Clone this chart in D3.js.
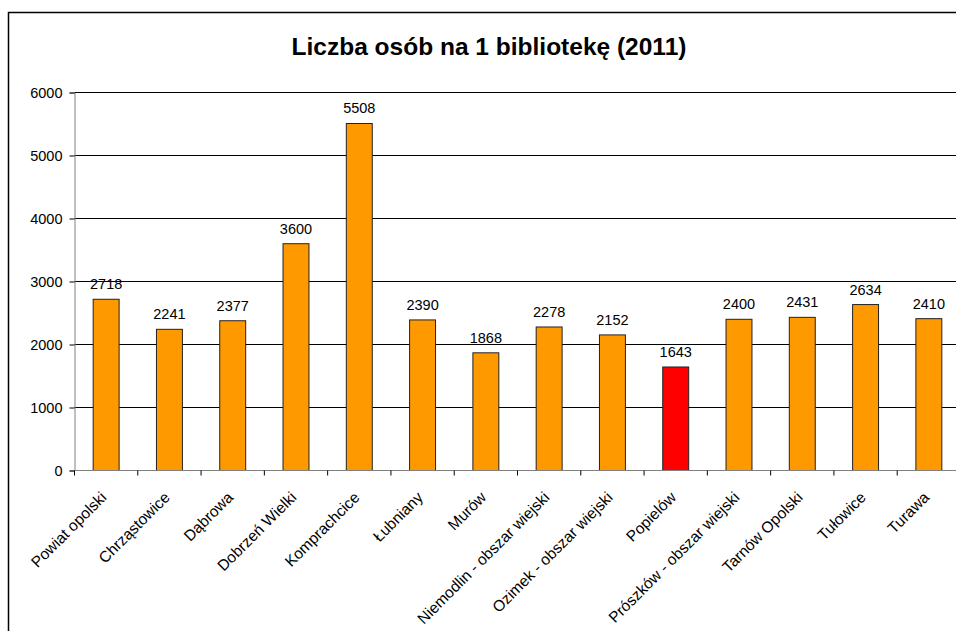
<!DOCTYPE html>
<html>
<head>
<meta charset="utf-8">
<script src="https://cdn.jsdelivr.net/npm/d3@7"></script>
<style>
  body { margin: 0; background: #fff; }
  svg { display: block; font-family: "Liberation Sans", Arial, sans-serif; }
</style>
</head>
<body>
<div id="chart"></div>
<script>
const gminy = ["Powiat opolski", "Chrząstowice", "Dąbrowa", "Dobrzeń Wielki", "Komprachcice",
  "Łubniany", "Murów", "Niemodlin - obszar wiejski", "Ozimek - obszar wiejski", "Popielów",
  "Prószków - obszar wiejski", "Tarnów Opolski", "Tułowice", "Turawa"];
const osobNaBiblioteke = [2718, 2241, 2377, 3600, 5508, 2390, 1868, 2278, 2152, 1643, 2400, 2431, 2634, 2410];
const yTicks = [0, 1000, 2000, 3000, 4000, 5000, 6000];
const wyroznione = "Popielów";

const svgWidth = 956, svgHeight = 631;
const margin = { top: 92.5, left: 74.5 };
const width = 886, height = 378;

const svg = d3.select("#chart").append("svg")
    .attr("width", svgWidth)
    .attr("height", svgHeight);

// ramka wykresu (wychodzi poza kadr z prawej i z dołu)
svg.append("rect")
    .attr("x", 8.5).attr("y", 12.5)
    .attr("width", 1000).attr("height", 700)
    .attr("fill", "none")
    .attr("stroke", "#000")
    .attr("stroke-width", 1.5);

svg.append("text")
    .attr("x", 489).attr("y", 55)
    .attr("text-anchor", "middle")
    .attr("font-size", 24.5)
    .attr("font-weight", "bold")
    .text("Liczba osób na 1 bibliotekę (2011)");

const g = svg.append("g")
    .attr("transform", "translate(" + margin.left + "," + margin.top + ")");

const x = d3.scaleBand().domain(gminy).range([0, width]).padding(0);
const y = d3.scaleLinear().domain([0, 6000]).range([height, 0]);

// linie siatki
g.selectAll(".grid")
    .data(yTicks.filter(d => d > 0))
    .enter().append("line")
    .attr("x1", 0).attr("x2", width)
    .attr("y1", d => y(d)).attr("y2", d => y(d))
    .attr("stroke", "#000")
    .attr("stroke-width", 1);

// oś Y
const yAxis = g.append("g")
    .call(d3.axisLeft(y).tickValues(yTicks).tickSize(5).tickPadding(7).tickFormat(d3.format("d")));
yAxis.select(".domain").attr("stroke", "#808080");
yAxis.selectAll(".tick line").attr("stroke", "#000");
yAxis.selectAll("text").attr("font-size", 14.5).attr("fill", "#000")
    .attr("font-family", "Liberation Sans, Arial, sans-serif");

// słupki
const barW = x.bandwidth() * 0.41;
g.selectAll(".bar")
    .data(osobNaBiblioteke)
    .enter().append("rect")
    .attr("x", (d, i) => x(gminy[i]) + (x.bandwidth() - barW) / 2)
    .attr("y", d => y(d))
    .attr("width", barW)
    .attr("height", d => height - y(d))
    .attr("fill", (d, i) => gminy[i] === wyroznione ? "#FF0000" : "#FF9900")
    .attr("stroke", "#222")
    .attr("stroke-width", 1);

// etykiety wartości
g.selectAll(".val")
    .data(osobNaBiblioteke)
    .enter().append("text")
    .attr("x", (d, i) => x(gminy[i]) + x.bandwidth() / 2)
    .attr("y", d => y(d) - 10)
    .attr("text-anchor", "middle")
    .attr("font-size", 14.5)
    .text(d => d);

// oś X
const xAxisG = g.append("g").attr("transform", "translate(0," + height + ")");
xAxisG.append("line")
    .attr("x1", 0).attr("x2", width)
    .attr("stroke", "#808080");
xAxisG.selectAll(".xtick")
    .data(gminy)
    .enter().append("line")
    .attr("x1", d => x(d)).attr("x2", d => x(d))
    .attr("y1", 0).attr("y2", 5)
    .attr("stroke", "#000");

xAxisG.selectAll(".xlab")
    .data(gminy)
    .enter().append("text")
    .attr("transform", d => "translate(" + (x(d) + x.bandwidth() / 2 - 2.5) + ",24)rotate(-45)")
    .attr("text-anchor", "end")
    .attr("dy", "0.35em")
    .attr("font-size", 15.5)
    .text(d => d);
</script>
</body>
</html>
